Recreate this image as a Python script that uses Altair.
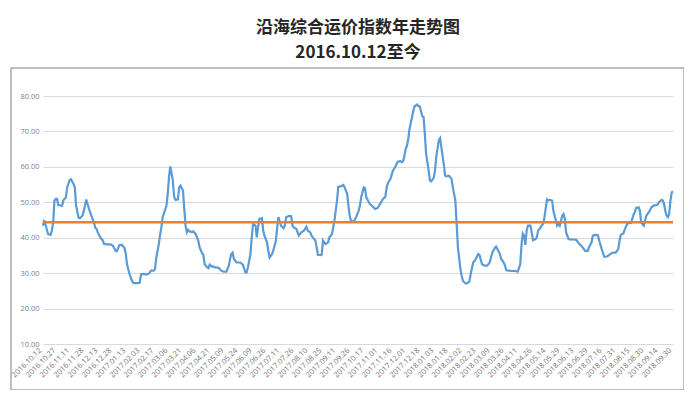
import json
import altair as alt
import pandas as pd

title_main = "沿海综合运价指数年走势图"
title_sub = "2016.10.12至今"

tick_labels = [
    "2016.10.12", "2016.10.27", "2016.11.11", "2016.11.28", "2016.12.13", "2016.12.28",
    "2017.01.13", "2017.02.03", "2017.02.17", "2017.03.06", "2017.03.21", "2017.04.06",
    "2017.04.21", "2017.05.09", "2017.05.24", "2017.06.09", "2017.06.26", "2017.07.11",
    "2017.07.26", "2017.08.10", "2017.08.25", "2017.09.11", "2017.09.26", "2017.10.17",
    "2017.11.01", "2017.11.16", "2017.12.01", "2017.12.18", "2018.01.03", "2018.01.18",
    "2018.02.02", "2018.02.23", "2018.03.09", "2018.03.26", "2018.04.11", "2018.04.26",
    "2018.05.14", "2018.05.29", "2018.06.13", "2018.06.29", "2018.07.16", "2018.07.31",
    "2018.08.15", "2018.08.30", "2018.09.14", "2018.09.30",
]
days_per_label = 11

# trading-day number (0 = 2016.10.12) and index value
day = [
    0, 1, 4, 6, 7, 8, 9, 10, 11, 12, 15, 16, 18, 19, 21, 22, 24, 25, 26, 28, 29, 31, 32, 34, 35,
    37, 38, 40, 41, 42, 43, 45, 47, 48, 50, 53, 55, 57, 58, 60, 62, 64, 65, 66, 68, 70, 71, 74,
    76, 77, 79, 81, 83, 85, 87, 88, 89, 91, 92, 93, 94, 97, 98, 99, 100, 102, 103, 104, 106,
    107, 108, 110, 111, 112, 113, 114, 115, 117, 118, 120, 122, 123,
    125, 126, 127, 129, 130, 131, 133, 134, 135, 136, 138, 140, 142, 144, 146, 147, 148, 149,
    150, 152, 153, 155, 157, 159, 160, 161, 163, 164, 165, 167, 168, 169, 170, 172, 173, 174,
    176, 177, 178, 180, 181, 183, 184, 185, 187, 189, 190, 191, 193, 195, 196, 197, 199, 201,
    203, 205, 207, 208, 210, 211, 212, 214, 215, 216, 218, 219, 220, 222, 224, 225, 227, 228,
    229, 231, 232, 234, 236, 237, 239, 240, 241, 242,
    244, 246, 248, 249, 250, 252, 253, 254, 256, 257, 259, 261, 263, 264, 266, 267, 269, 270,
    271, 273, 274, 275, 277, 278, 279, 281, 282, 283, 284, 285, 286, 287, 288, 290, 291, 292,
    294, 295, 296, 298, 299, 300, 301, 303, 304, 305, 307, 308, 309, 311, 312, 313, 315, 316,
    317, 319, 321, 322, 324, 325, 326, 328, 329, 330, 332, 333, 335, 336, 338, 339, 340, 342,
    343, 344, 345, 347, 349, 351, 352, 353, 355, 356, 357, 359, 360, 362, 363, 364, 366,
    368, 371, 373, 375, 376, 377, 378, 379, 380, 381, 383, 384, 385, 387, 388, 389, 391, 392,
    393, 394, 396, 397, 398, 400, 401, 402, 404, 405, 406, 408, 409, 410, 411, 413, 414, 417,
    419, 421, 422, 423, 425, 426, 428, 429, 431, 432, 434, 436, 437, 438, 439, 441, 443, 444,
    446, 448, 450, 452, 453, 454, 456, 457, 459, 460, 462, 463, 464, 465, 466, 468, 469, 470,
    472, 473, 474, 476, 477, 478, 480, 481, 483, 484, 486, 487, 488, 489, 490, 491, 492, 493,
    494, 495,
]
index_value = [
    43.4, 45.0, 41.0, 40.8, 42.0, 44.3, 50.5, 51.0, 51.0, 49.2, 49.0, 50.6, 51.4, 54.2, 56.3,
    56.5, 55.2, 54.2, 49.0, 45.6, 45.5, 46.2, 47.5, 50.8, 49.5,
    47.2, 46.2, 44.3, 42.9, 42.5, 41.5, 40.1, 39.2, 38.2, 38.1, 38.1, 37.7, 36.3, 36.2, 37.9,
    38.0, 37.1, 35.6, 32.5, 29.7, 27.8, 27.2, 27.2,
    27.3, 29.7, 29.8, 29.6, 29.8, 30.7, 30.7, 31.1, 34.4, 38.2, 40.8, 42.9, 45.8, 49.0, 52.4,
    57.1, 60.1, 56.1, 51.6, 50.7, 50.8,
    54.2, 54.7, 53.3, 48.1, 43.4, 41.5, 42.2, 41.8, 41.6, 41.8, 41.0, 39.2, 37.3,
    35.6, 35.2, 32.5, 31.6, 31.4, 32.4, 31.8, 31.9, 31.6, 31.6, 31.5, 30.7, 30.4, 30.4, 32.1,
    34.0, 35.4, 35.8,
    34.0, 33.0, 33.0, 33.0, 32.4, 30.2, 30.2, 31.6, 35.4, 40.1, 43.9, 43.4, 40.1, 42.9, 45.3,
    45.5, 42.0, 40.6,
    38.7, 36.3, 34.4, 35.4, 36.5, 39.2, 42.9, 45.8, 43.4, 42.7, 43.4, 45.8, 46.1, 46.1, 43.4,
    42.9, 42.5, 40.6,
    41.5, 42.0, 43.1, 42.0, 41.5, 40.6, 40.1, 39.2, 37.3, 35.2, 35.1, 35.2, 39.2, 38.2, 38.7,
    40.1, 41.0, 42.9,
    44.8, 50.5, 54.4, 54.5, 54.9, 54.2, 52.4, 49.0, 46.2, 44.8,
    44.5, 45.8, 47.6, 49.0, 51.4, 54.2, 54.0, 51.4, 50.0, 49.5, 48.8, 48.1, 48.4, 49.0, 50.3,
    50.9, 51.6, 54.2,
    55.4, 56.6, 57.8, 59.0, 60.1, 61.0, 61.5, 61.6, 61.3, 61.6, 63.2, 65.1, 66.0, 67.9, 70.8,
    74.1, 75.9, 77.1,
    77.6, 77.1, 77.1, 74.3, 74.1, 69.3, 63.7, 59.0, 56.1, 55.9, 56.9, 59.0, 62.8, 67.5, 68.1,
    65.6, 60.4, 57.5,
    57.3, 57.5, 56.6, 54.2, 50.5, 43.9, 37.3, 31.1, 29.2, 27.8, 27.1, 27.1, 27.6, 29.7, 33.0,
    33.4, 34.0, 35.4,
    35.1, 33.7, 32.5, 32.1, 32.1, 33.0, 34.4, 35.8, 37.1, 37.5, 36.8, 35.4, 34.0, 33.0, 32.1,
    30.8, 30.7,
    30.6, 30.6, 30.4, 32.5, 38.2, 41.2, 40.6, 38.0, 42.0, 43.4, 43.4, 41.5, 39.3, 39.6, 40.1,
    42.0, 42.9, 43.6,
    43.9, 45.8, 50.8, 50.5, 50.7, 50.5, 47.6, 46.2, 43.4, 43.9, 43.4, 46.2, 46.7, 45.3, 41.5,
    39.6, 39.5, 39.5,
    39.4, 38.4, 38.0, 37.7, 36.8, 36.3, 36.3, 37.3, 38.7, 40.6, 40.8, 40.7, 39.2, 38.0, 36.8,
    34.6, 34.7, 34.9,
    35.5, 35.8, 35.8, 36.8, 39.2, 40.8, 41.2, 42.2, 43.9, 44.1, 44.2, 45.3, 46.5, 47.2, 48.4,
    48.6, 47.6, 44.3,
    43.4, 44.8, 46.2, 47.2, 47.8, 48.6, 49.1, 49.1, 49.4, 50.0, 50.7, 50.5, 49.5, 47.5, 46.2,
    45.8, 46.7, 50.5,
    52.8, 53.1,
]
average_value = 44.4
y_ticks = [10, 20, 30, 40, 50, 60, 70, 80]

df = pd.DataFrame({"day": day, "value": index_value})
avg_df = pd.DataFrame({"value": [average_value]})
frame_df = pd.DataFrame({"f": [0]})

last_day = days_per_label * (len(tick_labels) - 1)
tick_days = [i * days_per_label for i in range(len(tick_labels))]
label_expr = json.dumps(tick_labels) + "[round(datum.value / %d)]" % days_per_label

x_scale = alt.Scale(domain=[0, last_day], nice=False, zero=False)
y_scale = alt.Scale(domain=[10, 80], nice=False, zero=False)

y_axis = alt.Axis(
    values=y_ticks,
    format=".2f",
    grid=True,
    gridColor="#d9d9d9",
    gridWidth=1,
    ticks=False,
    domain=False,
    labelFontSize=7.5,
    labelColor="#7f7f7f",
    labelFont="Open Sans",
    labelPadding=4,
    title=None,
)

line = alt.Chart(df).mark_line(color="#5B9BD5", strokeWidth=2.2).encode(
    x=alt.X(
        "day:Q",
        scale=x_scale,
        axis=alt.Axis(
            values=tick_days,
            labelExpr=label_expr,
            labelAngle=315,
            labelAlign="right",
            labelBaseline="middle",
            grid=False,
            ticks=False,
            domain=False,
            labelFontSize=7.5,
            labelColor="#737373",
            labelFont="Open Sans",
            labelPadding=5,
            labelOffset=-3,
            labelOverlap=False,
            labelBound=False,
            title=None,
        ),
    ),
    y=alt.Y("value:Q", scale=y_scale, axis=y_axis),
)

avg = alt.Chart(avg_df).mark_rule(color="#ED7D31", strokeWidth=2.5).encode(
    y=alt.Y("value:Q", scale=y_scale, axis=y_axis)
)

frame = alt.Chart(frame_df).mark_rect(fillOpacity=0, stroke="#7f7f7f", strokeWidth=1).encode(
    x=alt.value(-32), x2=alt.value(641), y=alt.value(-28), y2=alt.value(294)
)

chart = (
    alt.layer(frame, line, avg)
    .properties(
        width=630,
        height=248,
        autosize="none",
        padding={"left": 35, "top": 88, "right": 11, "bottom": 46},
        title=alt.TitleParams(
            text=title_main,
            subtitle=title_sub,
            anchor="middle",
            font="Noto Sans CJK SC",
            subtitleFont="Noto Sans CJK SC",
            fontSize=17,
            subtitleFontSize=17,
            fontWeight="bold",
            subtitleFontWeight="bold",
            color="#262626",
            subtitleColor="#262626",
            offset=6,
            subtitlePadding=8,
        ),
    )
    .configure_view(strokeWidth=0)
)

chart.save("out.html", embed_options={"renderer": "svg", "actions": False})
